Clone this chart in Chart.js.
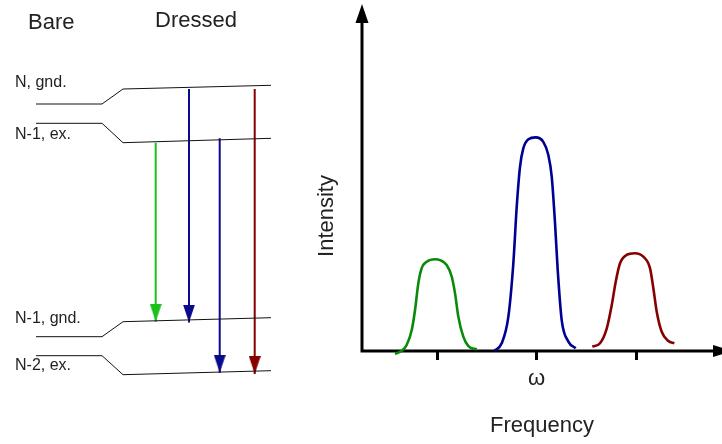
<!DOCTYPE html>
<html>
<head>
<meta charset="utf-8">
<title>Mollow triplet</title>
<script src="https://cdn.jsdelivr.net/npm/chart.js@4.4.0/dist/chart.umd.min.js"></script>
<style>
    body { margin: 0; background: #fff; }
    #wrap { position: relative; width: 722px; height: 444px; overflow: hidden; font-family: "Liberation Sans", Arial, sans-serif; color: #222; }
    canvas { position: absolute; top: 0; }
    #levels { left: 0; }
    #spectrum { left: 300px; }
    .lbl { position: absolute; line-height: 1; white-space: nowrap; }
    .big { font-size: 22px; }
    .small { font-size: 16px; }
</style>
</head>
<body>
<div id="wrap">
    <canvas id="levels" width="300" height="444"></canvas>
    <canvas id="spectrum" width="422" height="444"></canvas>
    <div class="lbl big" style="left:28px;top:11px">Bare</div>
    <div class="lbl big" style="left:155px;top:9px">Dressed</div>
    <div class="lbl small" style="left:15px;top:74px">N, gnd.</div>
    <div class="lbl small" style="left:15px;top:126px">N-1, ex.</div>
    <div class="lbl small" style="left:15px;top:310px">N-1, gnd.</div>
    <div class="lbl small" style="left:15px;top:357px">N-2, ex.</div>
</div>
<script>
// level diagram: horizontal position of the polyline vertices (bare start, bare end, dressed start, dressed end)
const diagramX = [36, 102, 123, 271];
const levelNames = ["N, gnd.", "N-1, ex.", "N-1, gnd.", "N-2, ex."];
const bareEnergy = [340, 320.7, 107.3, 88.3];
const dressedStart = [355, 301.3, 122.3, 69.3];
const dressedEnd = [358.7, 305.7, 126.3, 73.3];

// transitions between dressed states
const arrowX = [155.7, 189, 219.7, 254.7];
const arrowFrom = [301.3, 355, 305.7, 355];
const arrowTo = [122.3, 121.5, 71.3, 70];
const arrowColors = ["#1cbf1c", "#0a0a8c", "#0a0a8c", "#860000"];

// spectrum: frequency in units of the Rabi splitting, centred on omega
const freqTicks = [-1, 0, 1];
const tickLabels = ["", "\u03c9", ""];

const greenFreq = [-1.422, -1.355, -1.305, -1.254, -1.221, -1.188, -1.154, -1.104, -1.020, -0.970, -0.903, -0.852, -0.819, -0.786, -0.736, -0.685, -0.601];
const greenInt = [-0.014, 0.001, 0.028, 0.098, 0.192, 0.317, 0.388, 0.418, 0.430, 0.426, 0.403, 0.348, 0.270, 0.161, 0.067, 0.023, 0.008];

const blueFreq = [-0.424, -0.350, -0.283, -0.233, -0.199, -0.166, -0.133, -0.082, -0.008, 0.068, 0.119, 0.153, 0.186, 0.213, 0.253, 0.320, 0.394];
const blueInt = [0.001, 0.036, 0.161, 0.411, 0.676, 0.863, 0.949, 0.992, 1.001, 0.980, 0.918, 0.816, 0.598, 0.379, 0.145, 0.044, 0.013];

const redFreq = [0.561, 0.638, 0.706, 0.756, 0.796, 0.839, 0.905, 0.988, 1.073, 1.141, 1.174, 1.208, 1.258, 1.325, 1.385];
const redInt = [0.020, 0.036, 0.106, 0.215, 0.325, 0.411, 0.450, 0.458, 0.442, 0.387, 0.294, 0.184, 0.090, 0.047, 0.036];

const peakColors = ["#0a8a0a", "#000092", "#860000"];

const FONT = "'Liberation Sans', Arial, sans-serif";

function pairs(xs, ys) {
    return xs.map((x, i) => ({ x, y: ys[i] }));
}

function arrowHead(color) {
    // tip sits at the canvas centre so the image is drawn with its tip on the point
    const c = document.createElement("canvas");
    c.width = 12;
    c.height = 36;
    const g = c.getContext("2d");
    g.fillStyle = color;
    g.beginPath();
    g.moveTo(0, 0);
    g.lineTo(12, 0);
    g.lineTo(6, 18);
    g.closePath();
    g.fill();
    return c;
}

const levelSets = levelNames.map((name, i) => ({
    label: name,
    data: pairs(diagramX, [bareEnergy[i], bareEnergy[i], dressedStart[i], dressedEnd[i]]),
    borderColor: "#111",
    borderWidth: 1,
    pointRadius: 0,
    tension: 0,
}));

const arrowSets = arrowX.map((x, i) => ({
    label: "transition " + (i + 1),
    data: [{ x, y: arrowFrom[i] }, { x, y: arrowTo[i] }],
    borderColor: arrowColors[i],
    borderWidth: 2,
    pointRadius: [0, 1],
    pointStyle: ["circle", arrowHead(arrowColors[i])],
}));

new Chart(document.getElementById("levels"), {
    type: "line",
    data: { datasets: [...levelSets, ...arrowSets] },
    options: {
        responsive: false,
        animation: false,
        events: [],
        devicePixelRatio: 1,
        layout: { padding: 0, autoPadding: false },
        clip: false,
        plugins: { legend: { display: false }, tooltip: { enabled: false } },
        scales: {
            x: { type: "linear", min: 0, max: 300, display: false },
            y: { type: "linear", min: 0, max: 444, display: false },
        },
    },
});

const axisArrows = {
    id: "axisArrows",
    beforeDatasetsDraw(chart) {
        const { ctx, chartArea: { left, right, bottom } } = chart;
        ctx.save();
        ctx.strokeStyle = "#000";
        ctx.fillStyle = "#000";
        ctx.lineWidth = 3;
        ctx.beginPath();
        ctx.moveTo(left, bottom + 1.5);
        ctx.lineTo(left, 22);
        ctx.moveTo(left - 1.5, bottom);
        ctx.lineTo(right - 8, bottom);
        ctx.stroke();
        ctx.beginPath();
        ctx.moveTo(left - 6.5, 23);
        ctx.lineTo(left + 6.5, 23);
        ctx.lineTo(left, 4);
        ctx.closePath();
        ctx.fill();
        ctx.beginPath();
        ctx.moveTo(right - 9, bottom - 6);
        ctx.lineTo(right - 9, bottom + 6);
        ctx.lineTo(right + 10, bottom);
        ctx.closePath();
        ctx.fill();
        ctx.restore();
    },
};

const peaks = [pairs(greenFreq, greenInt), pairs(blueFreq, blueInt), pairs(redFreq, redInt)];

new Chart(document.getElementById("spectrum"), {
    type: "line",
    data: {
        datasets: peaks.map((data, i) => ({
            label: ["lower sideband", "central line", "upper sideband"][i],
            data,
            borderColor: peakColors[i],
            borderWidth: 2.6,
            pointRadius: 0,
            cubicInterpolationMode: "monotone",
        })),
    },
    options: {
        responsive: false,
        animation: false,
        events: [],
        devicePixelRatio: 1,
        layout: { padding: { top: 81, left: 0, right: 0, bottom: 0 }, autoPadding: false },
        clip: false,
        plugins: { legend: { display: false }, tooltip: { enabled: false } },
        scales: {
            x: {
                type: "linear",
                min: -1.754,
                max: 1.864,
                afterBuildTicks: (scale) => { scale.ticks = freqTicks.map((v) => ({ value: v })); },
                afterFit: (scale) => { scale.height = 93; },
                ticks: {
                    autoSkip: false,
                    maxRotation: 0,
                    padding: 6,
                    color: "#222",
                    font: { family: FONT, size: 22 },
                    callback: (value, index) => tickLabels[index],
                },
                grid: {
                    display: true,
                    drawOnChartArea: false,
                    drawTicks: true,
                    tickLength: 9,
                    tickWidth: 3,
                    tickColor: "#000",
                    lineWidth: 3,
                    color: "#000",
                },
                border: { display: false },
                title: {
                    display: true,
                    text: "Frequency",
                    color: "#222",
                    font: { family: FONT, size: 22 },
                    padding: { top: 0, bottom: 5 },
                },
            },
            y: {
                type: "linear",
                min: 0,
                max: 1.265,
                afterFit: (scale) => { scale.width = 62; },
                ticks: { display: false },
                grid: { display: false },
                border: { display: false },
                title: {
                    display: true,
                    text: "Intensity",
                    color: "#222",
                    font: { family: FONT, size: 22 },
                    padding: { top: 14, bottom: 0 },
                },
            },
        },
    },
    plugins: [axisArrows],
});
</script>
</body>
</html>
